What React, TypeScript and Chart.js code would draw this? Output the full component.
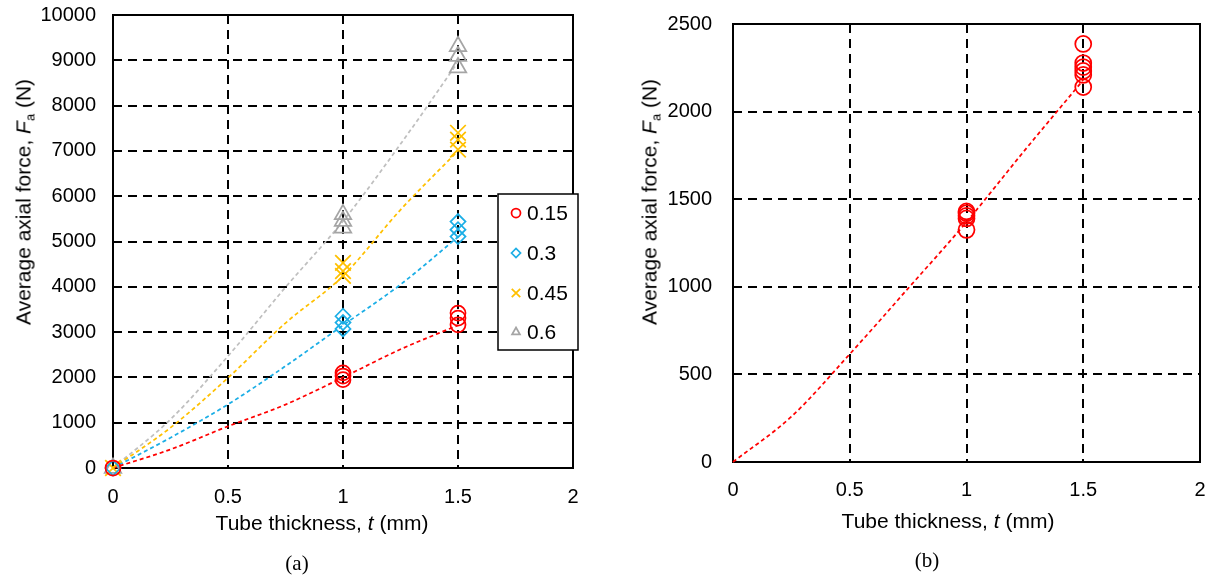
import React, { useEffect, useRef } from 'react';
import { Chart, registerables } from 'chart.js';
import { drawPoint } from 'chart.js/helpers';

Chart.register(...registerables);

// ---------- data (a) ----------
const seriesLabels = ['0.15', '0.3', '0.45', '0.6'];
const tTest = [0, 1, 1, 1, 1.5, 1.5, 1.5];
const force015 = [0, 2100, 2030, 1950, 3420, 3310, 3160];
const force030 = [0, 3350, 3210, 3070, 5440, 5260, 5110];
const force045 = [0, 4530, 4345, 4240, 7400, 7250, 7030];
const force060 = [0, 5600, 5450, 5300, 9310, 9090, 8840];

const tFit = [0, 0.25, 0.5, 0.75, 1, 1.25, 1.5];
const fit015 = [0, 410, 920, 1400, 2000, 2620, 3150];
const fit030 = [0, 669, 1404, 2250, 3150, 4050, 5100];
const fit045 = [0, 890, 1990, 3200, 4240, 5700, 7000];
const fit060 = [0, 1073, 2470, 3990, 5450, 7150, 8960];

// ---------- data (b) ----------
const tTestB = [1, 1, 1, 1, 1, 1.5, 1.5, 1.5, 1.5, 1.5, 1.5];
const forceB = [1430, 1420, 1405, 1390, 1325, 2386, 2277, 2254, 2232, 2209, 2140];
const fitB = [0, 259, 616, 991, 1370, 1780, 2180];

const xTickValues = [0, 0.5, 1, 1.5, 2];

const FONT = '"Liberation Sans", Arial, sans-serif';
const SERIF = '"Liberation Serif", "Times New Roman", serif';
const colors = ['#FF0000', '#1BAEE6', '#FFC000', '#A5A5A5'];
const lineColors = ['#FF0000', '#1BAEE6', '#FFC000', '#BFBFBF'];
const styles = ['circle', 'rectRot', 'crossRot', 'triangle'];
const radii = [7.5, 7.5, 11, 9.5];

const pts = (xs: number[], ys: number[]) => xs.map((x, i) => ({ x, y: ys[i] }));

const framePlugin = {
  id: 'frame',
  beforeDatasetsDraw(chart: any) {
    const { ctx, chartArea } = chart;
    const { left, top, right, bottom } = chartArea;
    ctx.save();
    ctx.strokeStyle = '#000';
    ctx.lineWidth = 2;
    ctx.setLineDash([]);
    ctx.strokeRect(left, top, right - left, bottom - top);
    ctx.restore();
  },
};

const legendPlugin = {
  id: 'boxLegend',
  afterDraw(chart: any) {
    const { ctx } = chart;
    ctx.save();
    ctx.fillStyle = '#fff';
    ctx.fillRect(498, 194, 80, 156);
    ctx.strokeStyle = '#000';
    ctx.lineWidth = 1.5;
    ctx.setLineDash([]);
    ctx.strokeRect(498, 194, 80, 156);
    const ys = [213, 253, 293, 332];
    seriesLabels.forEach((lab, i) => {
      ctx.strokeStyle = colors[i];
      ctx.fillStyle = 'rgba(0,0,0,0)';
      ctx.lineWidth = 1.75;
      drawPoint(ctx, { pointStyle: styles[i], radius: i === 2 ? 6 : 4.5, rotation: 0, borderWidth: 1.75 } as any, 516, ys[i]);
      ctx.fillStyle = '#000';
      ctx.font = `21px ${FONT}`;
      ctx.textBaseline = 'middle';
      ctx.textAlign = 'left';
      ctx.fillText(lab, 527, ys[i] + 1);
    });
    ctx.restore();
  },
};

function makeScales(yMax: number, yStep: number, yWidth: number, xHeight: number, yGap: number, xGap: number) {
  const tickFont = { family: FONT, size: 20 };
  return {
    x: {
      type: 'linear',
      min: 0,
      max: 2,
      afterFit: (s: any) => { s.height = xHeight; },
      afterBuildTicks: (s: any) => { s.ticks = xTickValues.map((v) => ({ value: v })); },
      ticks: { padding: 0, color: '#000', font: tickFont, maxRotation: 0, callback: (v: any) => String(v) },
      grid: { color: '#000', lineWidth: 2, drawTicks: true, tickLength: xGap, tickColor: 'rgba(0,0,0,0)' },
      border: { display: false, dash: [9, 6] },
    },
    y: {
      type: 'linear',
      min: 0,
      max: yMax,
      afterFit: (s: any) => { s.width = yWidth; },
      ticks: { stepSize: yStep, padding: 0, color: '#000', font: tickFont, callback: (v: any) => String(v) },
      grid: { color: '#000', lineWidth: 2, drawTicks: true, tickLength: yGap, tickColor: 'rgba(0,0,0,0)' },
      border: { display: false, dash: [9, 6] },
    },
  };
}

function ChartCanvas({ config, width, height, left }: any) {
  const ref = useRef<HTMLCanvasElement>(null);
  useEffect(() => {
    if (!ref.current) return;
    const chart = new Chart(ref.current, config());
    return () => chart.destroy();
  }, []);
  return (
    <canvas
      ref={ref}
      width={width}
      height={height}
      style={{ position: 'absolute', left, top: 0, width, height }}
    />
  );
}

const configA = () => {
  const forces = [force015, force030, force045, force060];
  const fits = [fit015, fit030, fit045, fit060];
  const datasets: any[] = [];
  forces.forEach((f, i) => {
    datasets.push({
      label: seriesLabels[i],
      data: pts(tTest, f),
      showLine: false,
      pointStyle: styles[i],
      pointRadius: radii[i],
      pointBorderWidth: 1.75,
      pointBorderColor: colors[i],
      pointBackgroundColor: 'rgba(0,0,0,0)',
      clip: false,
      order: 1,
    });
  });
  fits.forEach((f, i) => {
    datasets.push({
      label: 'fit ' + seriesLabels[i],
      data: pts(tFit, f),
      showLine: true,
      borderColor: lineColors[i],
      borderWidth: 1.75,
      borderDash: [4, 3],
      pointRadius: 0,
      cubicInterpolationMode: 'monotone',
      clip: false,
      order: 2,
    });
  });
  return {
    type: 'scatter',
    data: { datasets },
    options: {
      responsive: false,
      animation: false,
      events: [],
      layout: { autoPadding: false, padding: { left: 0, right: 27, top: 15, bottom: 0 } },
      plugins: { legend: { display: false }, tooltip: { enabled: false } },
      scales: makeScales(10000, 1000, 113, 77, 17, 17),
    },
    plugins: [framePlugin, legendPlugin],
  } as any;
};

const configB = () => {
  const datasets: any[] = [
    {
      label: 'tests',
      data: pts(tTestB, forceB),
      showLine: false,
      pointStyle: 'circle',
      pointRadius: 8,
      pointBorderWidth: 1.75,
      pointBorderColor: '#FF0000',
      pointBackgroundColor: 'rgba(0,0,0,0)',
      clip: false,
      order: 1,
    },
    {
      label: 'fit',
      data: pts(tFit, fitB),
      showLine: true,
      borderColor: '#FF0000',
      borderWidth: 1.75,
      borderDash: [4, 3],
      pointRadius: 0,
      cubicInterpolationMode: 'monotone',
      clip: false,
      order: 2,
    },
  ];
  return {
    type: 'scatter',
    data: { datasets },
    options: {
      responsive: false,
      animation: false,
      events: [],
      layout: { autoPadding: false, padding: { left: 0, right: 19, top: 24, bottom: 0 } },
      plugins: { legend: { display: false }, tooltip: { enabled: false } },
      scales: makeScales(2500, 500, 123, 83, 21, 16),
    },
    plugins: [framePlugin],
  } as any;
};

const textBase: React.CSSProperties = {
  position: 'absolute',
  fontFamily: FONT,
  fontSize: 21,
  color: '#000',
  whiteSpace: 'nowrap',
  lineHeight: 1,
};

function YTitle({ x, y }: { x: number; y: number }) {
  return (
    <div style={{ ...textBase, left: x, top: y, transform: 'translate(-50%, -50%) rotate(-90deg)' }}>
      Average axial force, <i>F</i>
      <sub style={{ fontSize: 13, verticalAlign: 'baseline', position: 'relative', top: 4 }}>a</sub> (N)
    </div>
  );
}

function XTitle({ x, y }: { x: number; y: number }) {
  return (
    <div style={{ ...textBase, left: x, top: y, transform: 'translate(-50%, -50%)' }}>
      Tube thickness, <i>t</i> (mm)
    </div>
  );
}

function Caption({ x, y, text }: { x: number; y: number; text: string }) {
  return (
    <div style={{ ...textBase, fontFamily: SERIF, fontSize: 21, left: x, top: y, transform: 'translate(-50%, -50%)' }}>
      {text}
    </div>
  );
}

export default function App() {
  return (
    <div style={{ position: 'absolute', left: 0, top: 0, width: 1219, height: 580, background: '#fff', overflow: 'hidden' }}>
      <ChartCanvas config={configA} width={600} height={545} left={0} />
      <ChartCanvas config={configB} width={609} height={545} left={610} />
      <YTitle x={23} y={202} />
      <YTitle x={649} y={202} />
      <XTitle x={322} y={522} />
      <XTitle x={948} y={520} />
      <Caption x={297} y={563} text="(a)" />
      <Caption x={927} y={560} text="(b)" />
    </div>
  );
}
